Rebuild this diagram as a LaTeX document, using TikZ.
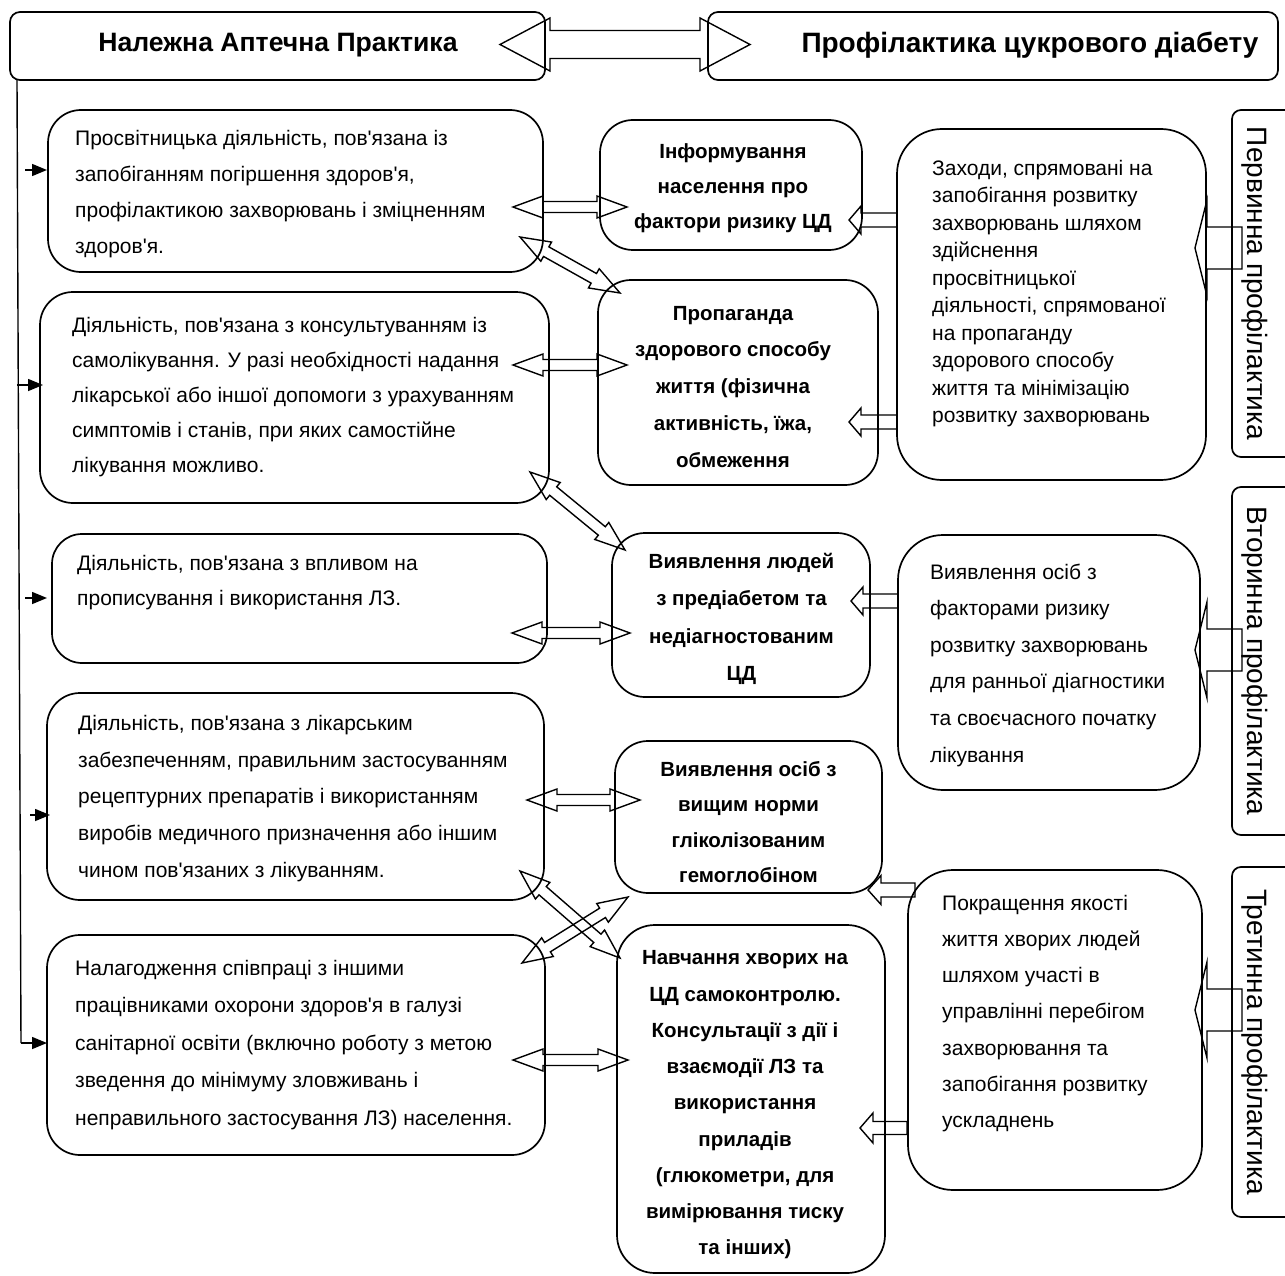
\documentclass[tikz,border=0pt]{standalone}
\usepackage{fontspec}
\newfontfamily\uf{Liberation Sans}
\usetikzlibrary{calc,arrows.meta,fit}
\newcommand\dblarr[5]{%
  \coordinate (t1) at ($(#1)!#3!(#2)$);
  \coordinate (t2) at ($(#2)!#3!(#1)$);
  \draw[blk] (#1) -- ($(t1)!#4!90:(#2)$) -- ($(t1)!#5!90:(#2)$) -- ($(t2)!#5!-90:(#1)$) -- ($(t2)!#4!-90:(#1)$) -- (#2) -- ($(t2)!#4!90:(#1)$) -- ($(t2)!#5!90:(#1)$) -- ($(t1)!#5!-90:(#2)$) -- ($(t1)!#4!-90:(#2)$) -- cycle;}
\newcommand\sglarr[5]{%
  \coordinate (hb) at ($(#2)!#3!(#1)$);
  \draw[blk] (#2) -- ($(hb)!#4!90:(#1)$) -- ($(hb)!#5!90:(#1)$) -- ($(#1)!#5!-90:(#2)$) -- ($(#1)!#5!90:(#2)$) -- ($(hb)!#5!-90:(#1)$) -- ($(hb)!#4!-90:(#1)$) -- cycle;}
\begin{document}
\begin{tikzpicture}[x=1pt,y=-1pt,
  bx/.style={draw, line width=1.7pt, inner sep=0pt, rounded corners=#1},
  lt/.style={inner sep=0pt, anchor=west, align=left, font=\uf\fontsize{21}{#1}\selectfont},
  mt/.style={inner sep=0pt, anchor=center, align=center, font=\uf\bfseries\fontsize{20.5}{#1}\selectfont},
  ht/.style={inner sep=0pt, anchor=center, font=\uf\bfseries\fontsize{#1}{30}\selectfont},
  vt/.style={inner sep=0pt, anchor=center, rotate=-90, font=\uf\fontsize{28}{32}\selectfont},
  blk/.style={draw, line width=1.4pt, line join=miter},
  la/.style={-{Triangle[length=15pt,width=12pt]}, line width=1.5pt}]
\useasboundingbox (0,0) rectangle (1285,1276);

% header
\node[bx=10pt, fit={(10,12)(545,80)}] (hL) {};
\node[bx=10pt, fit={(708,12)(1278,80)}] (hR) {};
\node[ht=26.6] (hLt) at (278,45) {Належна Аптечна Практика};
\node[ht=28] (hRt) at (1030,45) {Профілактика цукрового діабету};
\coordinate (h1) at (500,44.5); \coordinate (h2) at (750,44.5);
\dblarr{h1}{h2}{50pt}{26.5pt}{14pt}

% left boxes
\node[bx=33pt, fit={(48,110)(543,272)}] (A) {};
\node[bx=33pt, fit={(40,292)(549,503)}] (B) {};
\node[bx=30pt, fit={(52,534)(547,663)}] (C) {};
\node[bx=33pt, fit={(47,693)(544,900)}] (D) {};
\node[bx=33pt, fit={(47,935)(545,1155)}] (E) {};
\node[lt=36pt] (At) at (75,194) {Просвітницька діяльність, пов'язана із\\запобіганням погіршення здоров'я,\\профілактикою захворювань і зміцненням\\здоров'я.};
\node[lt=35pt] (Bt) at (72,397) {Діяльність, пов'язана з консультуванням із\\самолікування. У разі необхідності надання\\лікарської або іншої допомоги з урахуванням\\симптомів і станів, при яких самостійне\\лікування можливо.};
\node[lt=35pt] (Ct) at (77,582.5) {Діяльність, пов'язана з впливом на\\прописування і використання ЛЗ.};
\node[lt=36.75pt] (Dt) at (78,798.5) {Діяльність, пов'язана з лікарським\\забезпеченням, правильним застосуванням\\рецептурних препаратів і використанням\\виробів медичного призначення або іншим\\чином пов'язаних з лікуванням.};
\node[lt=37.5pt] (Et) at (75,1045) {Налагодження співпраці з іншими\\працівниками охорони здоров'я в галузі\\санітарної освіти (включно роботу з метою\\зведення до мінімуму зловживань і\\неправильного застосування ЛЗ) населення.};

% middle boxes
\node[bx=33pt, fit={(600,120)(862,250)}] (M1) {};
\node[bx=33pt, fit={(598,280)(878,485)}] (M2) {};
\node[bx=33pt, fit={(612,533)(870,697)}] (M3) {};
\node[bx=33pt, fit={(615,741)(882,893)}] (M4) {};
\node[bx=38pt, fit={(617,925)(885,1273)}] (M5) {};
\node[mt=35pt] (M1t) at (733,188) {Інформування\\населення про\\фактори ризику ЦД};
\node[mt=36.75pt] (M2t) at (733,386.6) {Пропаганда\\здорового способу\\життя (фізична\\активність, їжа,\\обмеження};
\node[mt=37.3pt] (M3t) at (741.5,619) {Виявлення людей\\з предіабетом та\\недіагностованим\\ЦД};
\node[mt=35.3pt] (M4t) at (748.5,822) {Виявлення осіб з\\вищим норми\\гліколізованим\\гемоглобіном};
\node[mt=36.25pt] (M5t) at (745,1105) {Навчання хворих на\\ЦД самоконтролю.\\Консультації з дії і\\взаємодії ЛЗ та\\використання\\приладів\\(глюкометри, для\\вимірювання тиску\\та інших)};

% right boxes
\node[bx=45pt, fit={(897,129)(1206,480)}] (R1) {};
\node[bx=45pt, fit={(898,535)(1200,790)}] (R2) {};
\node[bx=45pt, fit={(908,870)(1202,1190)}] (R3) {};
\node[lt=27.5pt] (R1t) at (932,293.5) {Заходи, спрямовані на\\запобігання розвитку\\захворювань шляхом\\здійснення\\просвітницької\\діяльності, спрямованої\\на пропаганду\\здорового способу\\життя та мінімізацію\\розвитку захворювань};
\node[lt=36.6pt] (R2t) at (930,665) {Виявлення осіб з\\факторами ризику\\розвитку захворювань\\для ранньої діагностики\\та своєчасного початку\\лікування};
\node[lt=36.2pt] (R3t) at (942,1013.5) {Покращення якості\\життя хворих людей\\шляхом участі в\\управлінні перебігом\\захворювання та\\запобігання розвитку\\ускладнень};

% vertical label boxes
\node[bx=9pt, fit={(1232,110)(1300,457)}] (V1) {};
\node[bx=9pt, fit={(1232,487)(1300,835)}] (V2) {};
\node[bx=9pt, fit={(1232,867)(1300,1217)}] (V3) {};
\node[vt] (V1t) at (1255,283.5) {Первинна профілактика};
\node[vt] (V2t) at (1255,661) {Вторинна профілактика};
\node[vt] (V3t) at (1255,1042) {Третинна профілактика};

% V -> R arrows
\coordinate (v1a) at (1242,248); \coordinate (v1b) at (1195,248);
\coordinate (v2a) at (1242,650); \coordinate (v2b) at (1195,650);
\coordinate (v3a) at (1242,1010); \coordinate (v3b) at (1195,1010);
\sglarr{v1a}{v1b}{12pt}{48pt}{21pt}
\sglarr{v2a}{v2b}{12pt}{48pt}{21pt}
\sglarr{v3a}{v3b}{12pt}{48pt}{21pt}

% R -> M arrows
\coordinate (s1a) at (897,220); \coordinate (s1b) at (849,220);
\coordinate (s2a) at (897,422); \coordinate (s2b) at (849,422);
\coordinate (s3a) at (898,601); \coordinate (s3b) at (851,601);
\coordinate (s4a) at (915,890); \coordinate (s4b) at (868,890);
\coordinate (s5a) at (907,1128); \coordinate (s5b) at (860,1128);
\sglarr{s1a}{s1b}{12pt}{14pt}{7pt}
\sglarr{s2a}{s2b}{12pt}{14pt}{7pt}
\sglarr{s3a}{s3b}{12pt}{14pt}{7pt}
\sglarr{s4a}{s4b}{13pt}{14.5pt}{7pt}
\sglarr{s5a}{s5b}{13pt}{15pt}{6.5pt}

% left <-> middle arrows
\coordinate (d1a) at (513,207); \coordinate (d1b) at (627,207);
\coordinate (d2a) at (520,237); \coordinate (d2b) at (620,293);
\coordinate (d3a) at (513,365); \coordinate (d3b) at (627,365);
\coordinate (d4a) at (530,472); \coordinate (d4b) at (625,550);
\coordinate (d5a) at (512,633); \coordinate (d5b) at (630,633);
\coordinate (d6a) at (527,800); \coordinate (d6b) at (640,800);
\coordinate (d7a) at (520,871); \coordinate (d7b) at (620,958);
\coordinate (d8a) at (522,963); \coordinate (d8b) at (628,897);
\coordinate (d9a) at (513,1060); \coordinate (d9b) at (628,1060);
\dblarr{d1a}{d1b}{30pt}{11pt}{5.5pt}
\dblarr{d2a}{d2b}{30pt}{11pt}{5.5pt}
\dblarr{d3a}{d3b}{30pt}{11pt}{5.5pt}
\dblarr{d4a}{d4b}{30pt}{11pt}{5.5pt}
\dblarr{d5a}{d5b}{30pt}{11pt}{5.5pt}
\dblarr{d6a}{d6b}{30pt}{11pt}{5.5pt}
\dblarr{d7a}{d7b}{30pt}{11pt}{5.5pt}
\dblarr{d8a}{d8b}{30pt}{11pt}{5.5pt}
\dblarr{d9a}{d9b}{30pt}{11pt}{5.5pt}

% trunk and left arrows
\coordinate (t0) at (17,80); \coordinate (t5) at (21,1043);
\coordinate (l1a) at (25,170); \coordinate (l1b) at (47,170);
\coordinate (l2a) at (17,385); \coordinate (l2b) at (43,385);
\coordinate (l3a) at (25,598); \coordinate (l3b) at (47,598);
\coordinate (l4a) at (30,815); \coordinate (l4b) at (50,815);
\coordinate (l5b) at (47,1043);
\draw[line width=1.4pt] (t0) -- (t5);
\draw[la] (t5) -- (l5b);
\draw[la] (l1a) -- (l1b);
\draw[la] (l2a) -- (l2b);
\draw[la] (l3a) -- (l3b);
\draw[la] (l4a) -- (l4b);
\end{tikzpicture}
\end{document}
